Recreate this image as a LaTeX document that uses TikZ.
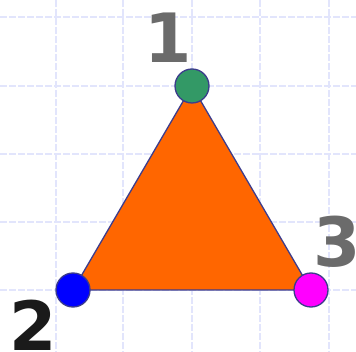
\documentclass[tikz,border=0pt]{standalone}
\usepackage{fontspec}
\setmainfont{DejaVu Sans}
\definecolor{gridc}{RGB}{226,229,252}
\definecolor{edgec}{RGB}{60,60,140}
\definecolor{orangec}{RGB}{255,102,0}
\definecolor{greenc}{RGB}{51,153,102}
\definecolor{bluec}{RGB}{0,0,255}
\definecolor{magc}{RGB}{255,0,255}
\definecolor{grayc}{RGB}{107,107,107}
\definecolor{darkc}{RGB}{26,26,26}
\begin{document}
\begin{tikzpicture}[x=1pt,y=-1pt,
  gridline/.style={draw=gridc,line width=1.6pt,dash pattern=on 7pt off 2pt},
  vtx/.style={circle,draw=edgec,line width=1.3pt,minimum size=34pt,inner sep=0pt},
  lbl/.style={inner sep=0pt,font=\fontsize{68}{68}\selectfont\bfseries},
  edge/.style={draw=edgec,line width=1.3pt}]
\useasboundingbox (0,0) rectangle (356,352);
\foreach \x in {56,123,192,260,329} \draw[gridline] (\x,0) -- (\x,352);
\foreach \y in {17,86,154,222,290} \draw[gridline] (0,\y) -- (356,\y);
\coordinate (p1) at (192,86);
\coordinate (p2) at (73,290);
\coordinate (p3) at (311,290);
\fill[orangec] (p1) -- (p2) -- (p3) -- cycle;
\draw[edge] (p1) -- (p2) -- (p3) -- cycle;
\node[vtx,fill=greenc] (v1) at (p1) {};
\node[vtx,fill=bluec] (v2) at (p2) {};
\node[vtx,fill=magc] (v3) at (p3) {};
\node[lbl,text=grayc] (l1) at (168,38) {1};
\node[lbl,text=darkc] (l2) at (33,325) {2};
\node[lbl,text=grayc] (l3) at (337,242) {3};
\end{tikzpicture}
\end{document}
